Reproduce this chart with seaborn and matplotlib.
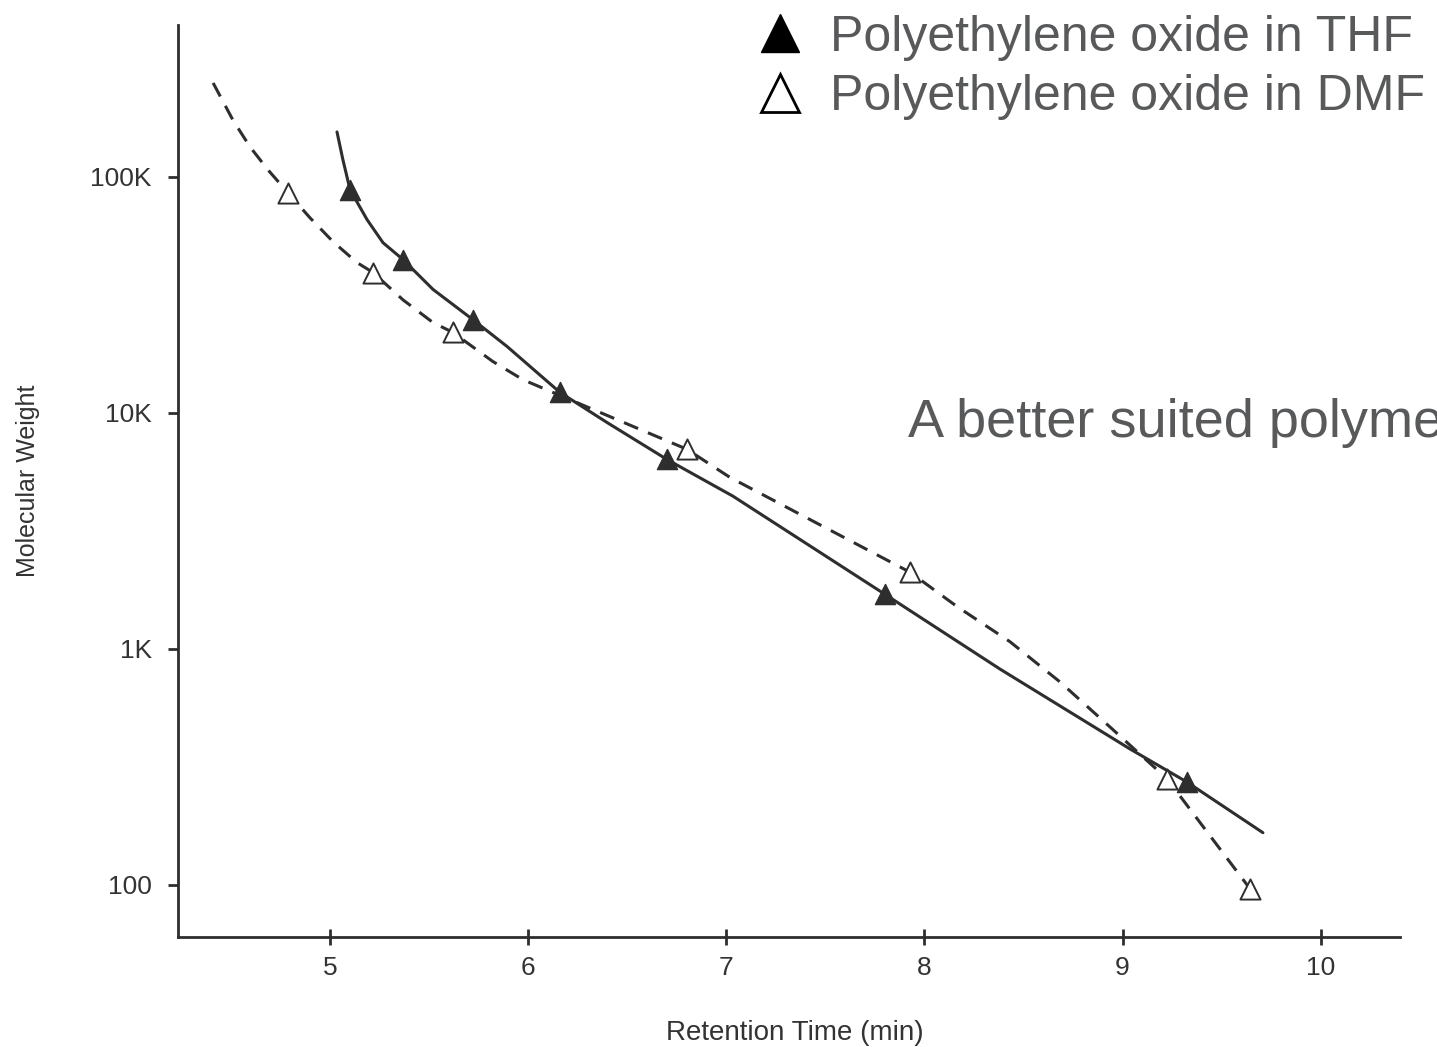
import matplotlib
matplotlib.use("Agg")
import matplotlib.pyplot as plt
from matplotlib.lines import Line2D
import pandas as pd
import seaborn as sns

# Calibration curve for polyethylene oxide in THF (retention time in min, molecular weight)
thf_curve_time = [5.036, 5.066, 5.102, 5.188, 5.268, 5.369, 5.521, 5.722, 5.894, 6.161,
                  6.398, 6.701, 7.034, 7.801, 8.381, 9.037, 9.325, 9.708]
thf_curve_mw = [155000, 118000, 88100, 65800, 52600, 44600, 33300, 24800, 19100, 12200,
                9100, 6340, 4430, 1700, 820, 376, 272, 166]

# Measured standards in THF
thf_time = [5.102, 5.369, 5.722, 6.161, 6.701, 7.801, 9.325]
thf_mw = [88100, 44600, 24800, 12200, 6340, 1700, 272]

# Calibration curve for polyethylene oxide in DMF
dmf_curve_time = [4.411, 4.511, 4.597, 4.688, 4.789, 4.900, 5.016, 5.137, 5.218, 5.369,
                  5.521, 5.621, 5.822, 5.975, 6.802, 7.019, 7.927, 8.164, 8.432, 8.684,
                  8.936, 9.224, 9.643]
dmf_curve_mw = [250000, 174000, 134000, 107000, 85500, 67000, 53100, 43300, 39300, 30100,
                24100, 21900, 16500, 13800, 7000, 5320, 2110, 1510, 1070, 723,
                466, 281, 96]

# Measured standards in DMF
dmf_time = [4.789, 5.218, 5.621, 6.802, 7.927, 9.224, 9.643]
dmf_mw = [85500, 39300, 21900, 7000, 2110, 281, 96]

x_ticks = [5, 6, 7, 8, 9, 10]
y_ticks = [100, 1000, 10000, 100000]
y_tick_labels = ["100", "1K", "10K", "100K"]

legend_labels = ["Polyethylene oxide in THF", "Polyethylene oxide in DMF"]
note_text = "A better suited polymer"

sns.set_style("ticks")
plt.rcParams["font.family"] = ["Liberation Sans", "DejaVu Sans"]

ink = "#2e2e2e"
grey_text = "#58595b"

fig = plt.figure(figsize=(14.37, 10.47), dpi=100)
ax = fig.add_axes([0.1239, 0.1051, 0.8504, 0.8710])

thf_line = pd.DataFrame({"time": thf_curve_time, "mw": thf_curve_mw})
dmf_line = pd.DataFrame({"time": dmf_curve_time, "mw": dmf_curve_mw})

sns.lineplot(data=thf_line, x="time", y="mw", ax=ax, sort=False, estimator=None,
             color=ink, lw=2.2)
sns.lineplot(data=dmf_line, x="time", y="mw", ax=ax, sort=False, estimator=None,
             color=ink, lw=2.2, linestyle=(0, (5, 3.5)))

sns.scatterplot(x=thf_time, y=thf_mw, ax=ax, marker="^", s=210, color=ink,
                edgecolor=ink, linewidth=1, zorder=5)
sns.scatterplot(x=dmf_time, y=dmf_mw, ax=ax, marker="^", s=210, color="white",
                edgecolor=ink, linewidth=1.4, zorder=5)

ax.set_yscale("log")
ax.set_xlim(4.234, 10.40)
ax.set_ylim(60, 440000)
ax.set_xticks(x_ticks)
ax.set_xticklabels([str(v) for v in x_ticks])
ax.set_yticks(y_ticks)
ax.set_yticklabels(y_tick_labels)
ax.minorticks_off()

sns.despine(ax=ax)
for side in ("left", "bottom"):
    ax.spines[side].set_linewidth(2.0)
    ax.spines[side].set_color(ink)

ax.tick_params(axis="y", direction="out", length=7, width=2, color=ink,
               labelsize=19, labelcolor="#333333", pad=12)
ax.tick_params(axis="x", direction="inout", length=12, width=2, color=ink,
               labelsize=19, labelcolor="#333333", pad=8)

ax.set_xlabel("Retention Time (min)", fontsize=20, color="#333333")
ax.set_ylabel("Molecular Weight", fontsize=18, color="#333333")
ax.xaxis.set_label_coords(0.505, -0.091)
ax.yaxis.set_label_coords(-0.113, 0.5)

handles = [
    Line2D([], [], marker="^", ls="none", color="black", markersize=27),
    Line2D([], [], marker="^", ls="none", markerfacecolor="white",
           markeredgecolor="black", markeredgewidth=2, markersize=27),
]
fig.legend(handles=handles, labels=legend_labels, loc="upper left",
           bbox_to_anchor=(735 / 1437, 1.005), frameon=False, fontsize=36,
           labelcolor=grey_text, handletextpad=0.5, labelspacing=0.27,
           borderaxespad=0, handlelength=1.0)

fig.text(908 / 1437, 1 - 437 / 1047, note_text, fontsize=39, color=grey_text,
         ha="left", va="baseline")

fig.savefig("out.png", dpi=100)
